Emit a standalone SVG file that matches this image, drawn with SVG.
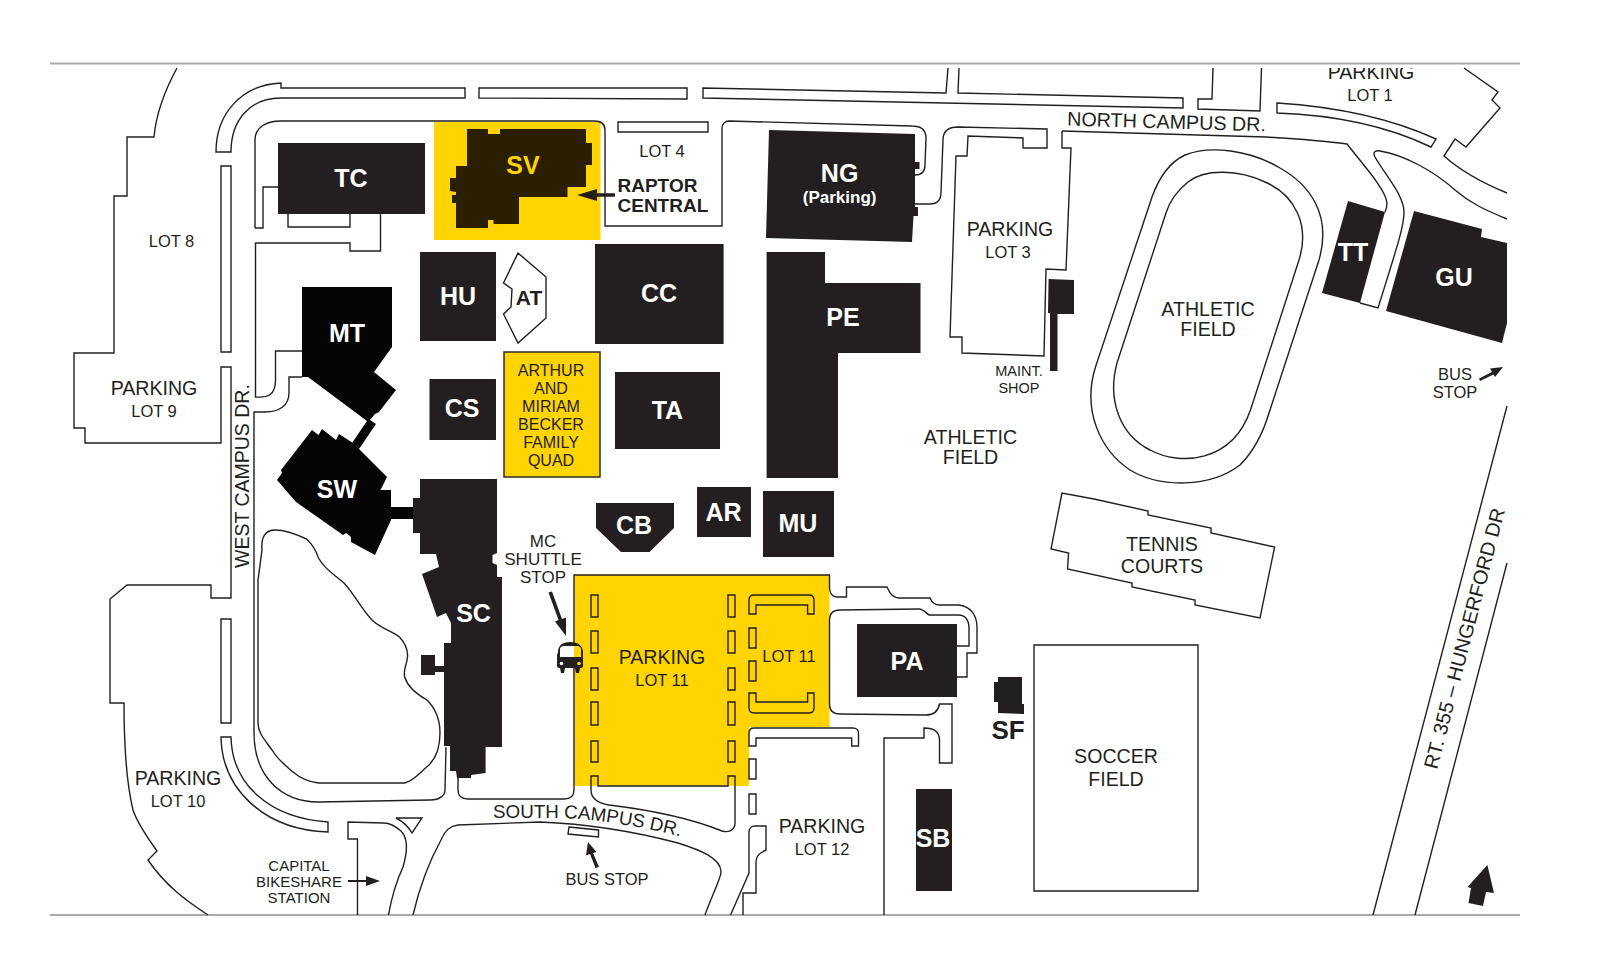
<svg xmlns="http://www.w3.org/2000/svg" width="1619" height="966" viewBox="0 0 1619 966">
<style>
text{font-family:"Liberation Sans",Arial,sans-serif;fill:#231f20;text-anchor:middle}
.r{font-size:19.6px}.s{font-size:16.5px}.q{font-size:16px}.c{font-size:15px}.m{font-size:14.5px}
.b{font-size:25px;font-weight:700;fill:#fff}
.l{fill:none;stroke:#231f20;stroke-width:1.4;stroke-linejoin:miter}
.f{fill:#231f20}.k{fill:#050505}.y{fill:#ffd400}
.e{stroke:#aaa;stroke-width:2;fill:none}
</style>
<defs><clipPath id="top"><rect x="1200" y="68" width="340" height="60"/></clipPath></defs>
<rect width="1619" height="966" fill="#fff"/>
<g id="yellow-areas">
<rect class="y" x="434" y="122" width="166.5" height="118"/>
<path class="y" d="M574.4,575H829.5V727H749V786H574.4Z"/>
</g>
<g id="connectors">
<path class="e" d="M50,63.5H1520M50,915H1520"/>
<path class="l" d="M177,68C165,90 156,115 154,137H127V196H114V353H74V428H85V443H221V367H231V598H211V585H127L110,599V703H124C124,745 127,785 133,810C138,825 148,838 157,851L148,860C165,885 185,900 208,915"/>
<path class="l" d="M221,166H231V352H221ZM221,619H231V723H221Z"/>
<path class="l" d="M216,152C216,115 240,85 281,83V88H465V98H281C250,98 231,120 231,152Z"/>
<path class="l" d="M479,88H687V99L479,98Z"/>
<path class="l" d="M618,122H708V132H618Z"/>
<path class="l" d="M948,68L946,93L703,88V98L1183,108V98L958,93L959,68"/>
<path class="l" d="M1213,68L1212,99H1198V109L1260,111L1261.5,68"/>
<path class="l" d="M1277,103C1340,107 1390,118 1436,139L1431,147C1385,125 1335,115 1277,113Z"/>
<path class="l" d="M1464,68L1498,92L1492,100L1500,108L1466,147L1455,139L1444,156C1462,172 1485,184 1507,193"/>
<path class="l" d="M1507,219C1485,210 1470,203 1455,190C1435,172 1405,155 1380,151C1374,150 1373,153 1375,157C1385,175 1404,195 1404,212C1404,225 1400,238 1378,308L1360,303"/>
<path class="l" d="M1062,131V148H1071L1066,270L1046,269L1044,356L962,353V337H950L956,156H967L968,136L1023,138V148L1047,148V129L958,127C948,127 943,132 943,140L941,192C941,200 938,204 930,204H914"/>
<path class="l" d="M1062,131L1266,137C1300,139 1325,141 1347,144C1365,167 1386,190 1387,203C1387,207 1386,210 1385,212"/>
<path class="l" d="M255,228V140C255,128 265,121 281,121H594C602,121 605,124 605,130V226H722V128C722,124 725,121 729,121L912,126C922,126 926,130 926,138L925,165C925,172 922,175 915,175"/>
<path class="l" d="M255,228H263V187H278M288,214V227H350V214M380.5,214V251H350V243H255.5V397C268,398 275.5,395 275.5,380V351H302M302,377H289V393C289,405 280,412 265,412H254V733C254,775 280,802 318.5,802L430.5,800C440,800 445,795 445,790L446,747"/>
<path class="l" d="M262,550C261,537 265,530 275.5,530C285,530 298,535 306.5,539C313,545 316,550 318.5,558C325,570 335,575 344,583C355,595 362,610 372,620C380,628 390,630 399.5,637C405,643 408,650 407.5,657C407,665 403,668 404.7,677C408,688 418,695 427,700C435,708 440,720 440,733C440,748 436,758 429,765C420,772 415,780 404.7,783H318.5C310,782 300,778 293,772C285,765 278,760 272,750C265,740 258,733 258,723V580Z"/>
<path class="l" d="M221,737H231C232,785 270,818 328,822V832C265,830 222,790 221,737Z"/>
<path class="l" d="M396,818H422L412,833C408,826 402,821 396,818Z"/>
<path class="l" d="M388.5,915C392,895 397,880 403,867C408,850 408,838 401,831C394,825 390,823 384,823L348,822V839H357.5V915"/>
<path class="l" d="M413,915C420,885 430,860 441,840C445,830 450,826 458,825L540,822C590,824 640,833 678,843C700,850 721,858 721,872C721,878 712,895 705,915"/>
<path class="l" d="M458,778V790C458,796 462,799 468,799H564C570,799 574,796 574,790V575H829.5V588C830,594 832,597 837,597H846.5V587H887C890,593 892,598 900,598H930C932,603 935,605 940,605H958.5C970,606 977,615 977,627V653H967V677H957"/>
<path class="l" d="M957,646H969V628C969,620 965,615 958.5,615H929C925,612 923,609 919,609L840,610C833,610 829.5,613 829.5,620V704C829.5,711 833,714 840,714L926,715C933,715 938,712 939.5,704H952V763H939.5V740C939.5,732 935,728 924,728V738H884V915"/>
<path class="l" d="M591,595h7v22h-7zM591,631h7v22h-7zM591,668h7v22h-7zM591,702h7v23h-7zM591,741h7v21h-7zM728,595h7v22h-7zM728,631h7v22h-7zM728,668h7v22h-7zM728,702h7v23h-7zM728,741h7v21h-7zM749,628h7v20h-7zM749,661h7v20h-7zM749,759h7v20h-7zM749,794h7v20h-7z"/>
<path class="l" d="M591,776H598V786H728V776H735V823C735,830 729,833 722,831C690,818 650,810 609,805C597,803 591,798 591,790Z"/>
<path class="l" d="M749,614V600C749,597 751,595 754,595H809C812,595 814,597 814,600V614H807.6V605H756V614Z"/>
<path class="l" d="M749,693H756V702H807.6V693H814V708C814,711 812,713 809,713H754C751,713 749,711 749,708Z"/>
<path class="l" d="M749,746V733C749,730 751,728 754,728H853C856,728 858.5,730 858.5,733V746H851.7V738H756V746Z"/>
<path class="l" d="M743,915V893H756V863C756,855 760,853 766,850V826H755C751,826 749,829 749,832V873L730.5,915"/>
<path class="l" d="M569,827L598.5,830V837L568,834Z"/>
<path class="l" d="M1034,645H1198V891H1034Z"/>
<path class="l" d="M1152,197L1095.5,367C1082,410 1100,450 1130,470C1160,488 1210,488 1240,465C1255,450 1263,433 1269,413L1319,260C1332,215 1310,185 1280,168C1250,150 1210,145 1185,155C1170,162 1160,175 1152,197Z"/>
<path class="l" d="M1166,213L1117,363C1107,400 1120,435 1150,450C1180,466 1232,463 1250.5,410L1299,260C1310,225 1295,195 1265,182C1240,170 1205,168 1188,182C1178,190 1170,200 1166,213Z"/>
<path class="l" d="M1062,493L1051,549L1068.6,553L1067.5,569L1132,583V587L1195,600V605L1260,618L1274.6,547L1211,533V528L1148,515V511L1094,499L1062,493Z"/>
<path class="l" d="M1507,406L1373,915M1507,563L1415,915"/>
<path class="l" d="M518,253L546,277V318L518,343L503.5,314L511,307L512,289L503.5,283Z"/>
</g>
<g id="arrows">
<path class="f" d="M615,193.300H597V189L577,195L597,201V196.700H615Z"/>
<path class="f" d="M348,880H366V876L380,881L366,886V882H348Z"/>
<path class="f" d="M548.500,592.500L552,591.500L562,619L566,617.500L566,636L555,621.500L558.500,620Z"/>
<path class="f" d="M599,867L595.500,868L590,854L586,855.500L588,842L596.500,852L593,853Z"/>
<path class="f" d="M1480,381L1479,378.500L1492,372L1490,368.500L1503,367L1495,377L1493.500,374.500Z"/>
<path class="f" d="M1487.400,865L1494,893L1486,892L1483,906L1468.500,903L1471,888L1467.500,887Z"/>
</g>
<g id="bus-icon">
<path class="f" d="M558,652C558,646 562,642 570,642C578,642 583,646 583,652V666C583,667 582,668 581,668H580L579,673H576L575,668H565L564,673H561L560,668H559C558,668 557,667 557,666V655Z"/>
<path d="M560,649C560,647 562,646 564,646H574V657H560Z" fill="#fff"/><path d="M574,646H577C579,646 581,647 581,649V657H574Z" class="y"/>
<circle cx="561.500" cy="663.500" r="1.800" fill="#fff"/><circle cx="579" cy="663.500" r="1.800" class="y"/>
</g>
<g id="TC"><rect class="f" x="278" y="143" width="147" height="71"/><text class="b" x="351" y="187">TC</text></g>
<g id="SV"><path d="M467,129H488V134H500V129H586V143H592V165H586V187H567.500V197H519V224H493.500V220H488V228H456V203H452V195H456V192L450,191V178H456V166H467Z" fill="#2b1f00"/><text class="b" x="523" y="174" style="fill:#ffd400">SV</text></g>
<g id="HU"><rect class="f" x="420" y="252" width="76" height="89"/><text class="b" x="458" y="305">HU</text></g>
<g id="AT"><text x="529" y="305" style="font-size:21px;font-weight:700">AT</text></g>
<g id="MT"><path class="k" d="M302,287H392V347L374,372L396,390L379,412L375,414L370,420L376,424L359,449L352,443L367,421L308,377H302Z"/><text class="b" x="347" y="342">MT</text></g>
<g id="SW"><path class="k" d="M312,430L318.500,435L322,429L336,440L339,434L353,443L387,477L380.500,490H391V507H413V519H391V520L375,555L351,542V537L346,533L343,535L296,502L277,480L282,473L281,470Z"/><text class="b" x="337" y="498">SW</text></g>
<g id="SC"><path class="f" d="M420,479H497V553L492.500,555V563L497,565V577H502V747H485.600V773L471,775V778H457L456,771H450V746H444V672H435V675H421V655H435V666H444V643H451V623L446,613L437,617L422,574L439,567L436,554H420V533H413V498H420Z"/><text class="b" x="473.500" y="622">SC</text></g>
<g id="CS"><rect class="f" x="429.500" y="379" width="66.500" height="61"/><text class="b" x="462" y="417">CS</text></g>
<g id="QUAD"><rect class="y" x="504" y="352" width="96" height="125" stroke="#231f20" stroke-width="1.400"/>
<text class="q" x="551" y="376">ARTHUR</text><text class="q" x="551" y="394">AND</text><text class="q" x="551" y="412">MIRIAM</text><text class="q" x="551" y="430">BECKER</text><text class="q" x="551" y="448">FAMILY</text><text class="q" x="551" y="466">QUAD</text></g>
<g id="CC"><rect class="f" x="595" y="244" width="128.600" height="100"/><text class="b" x="659" y="302">CC</text></g>
<g id="TA"><rect class="f" x="615" y="372" width="105" height="77"/><text class="b" x="667.400" y="419">TA</text></g>
<g id="PE"><path class="f" d="M766.600,252H825V283H920.500V353H838V478H766.600Z"/><text class="b" x="843" y="326">PE</text></g>
<g id="NG"><path class="f" d="M769,130L915,134V162H919.500V169H915V207H918V216H913.500L912,242L766,238Z"/><text class="b" x="839.600" y="182">NG</text><text class="b" x="839.600" y="203" style="font-size:17px">(Parking)</text></g>
<g id="MAINT"><path class="f" d="M1048.600,279L1074,280V314H1057.500V371H1050V313H1048Z"/></g>
<g id="AR"><rect class="f" x="697" y="487" width="54" height="50"/><text class="b" x="723.500" y="521">AR</text></g>
<g id="MU"><rect class="f" x="763" y="491" width="71" height="66"/><text class="b" x="798" y="532">MU</text></g>
<g id="CB"><path class="f" d="M596,503H674V528L649.500,552H621L596,528Z"/><text class="b" x="634" y="534">CB</text></g>
<g id="PA"><rect class="f" x="857" y="624" width="100" height="73"/><text class="b" x="907" y="670">PA</text></g>
<g id="SF"><path class="f" d="M998,677H1022V704H1024V714L998,713V702H994V682H998Z"/><text x="1008" y="739" style="font-size:26px;font-weight:700">SF</text></g>
<g id="SB"><rect class="f" x="916" y="789" width="36" height="102"/><text class="b" x="933" y="847">SB</text></g>
<g id="TT"><path class="f" d="M1348,201L1385,212L1360,303L1322,293Z"/><text class="b" x="1353" y="261">TT</text></g>
<g id="GU"><path class="f" d="M1414,211L1482,229L1481,237L1507,243V323L1502,343L1386,311Z"/><text class="b" x="1454" y="286">GU</text></g>
<g id="labels">
<text x="617.500" y="192" style="font-size:19px;font-weight:700;text-anchor:start">RAPTOR</text>
<text x="617.500" y="212" style="font-size:19px;font-weight:700;text-anchor:start">CENTRAL</text>
<text class="s" x="662" y="157">LOT 4</text>
<text class="r" x="1010" y="236">PARKING</text><text class="s" x="1008" y="258">LOT 3</text>
<text class="s" x="171.500" y="247">LOT 8</text>
<text class="r" x="154" y="395">PARKING</text><text class="s" x="154" y="417">LOT 9</text>
<text class="m" x="1019" y="376">MAINT.</text><text class="m" x="1019" y="393">SHOP</text>
<text class="r" x="970.500" y="444">ATHLETIC</text><text class="r" x="970.500" y="464">FIELD</text>
<text class="r" x="1208" y="316">ATHLETIC</text><text class="r" x="1208" y="336">FIELD</text>
<text class="r" x="1371" y="79" clip-path="url(#top)">PARKING</text><text class="s" x="1370" y="101">LOT 1</text>
<text class="s" x="1455" y="380">BUS</text><text class="s" x="1455" y="398">STOP</text>
<text class="r" x="1162" y="551">TENNIS</text><text class="r" x="1162" y="573">COURTS</text>
<text class="r" x="1116" y="763">SOCCER</text><text class="r" x="1116" y="786">FIELD</text>
<text class="r" x="662" y="664">PARKING</text><text class="s" x="662" y="686">LOT 11</text>
<text class="s" x="789" y="662">LOT 11</text>
<text class="r" x="822" y="833">PARKING</text><text class="s" x="822" y="855">LOT 12</text>
<text class="r" x="178" y="785">PARKING</text><text class="s" x="178" y="807">LOT 10</text>
<text class="c" x="299" y="871">CAPITAL</text><text class="c" x="299" y="887">BIKESHARE</text><text class="c" x="299" y="903">STATION</text>
<text x="543" y="547" style="font-size:17px">MC</text><text x="543" y="565" style="font-size:17px">SHUTTLE</text><text x="543" y="583" style="font-size:17px">STOP</text>
<text class="s" x="607" y="885">BUS STOP</text>
<text x="1067" y="125.500" transform="rotate(1.700 1067 125.500)" style="font-size:19.700px;text-anchor:start">NORTH CAMPUS DR.</text>
<text x="248.600" y="568" transform="rotate(-90 248.600 568)" style="font-size:19.500px;text-anchor:start">WEST CAMPUS DR.</text>
<path id="sc" d="M493,818L564,818C600,820 640,826 682,837" fill="none"/>
<text style="font-size:18.800px;text-anchor:start"><textPath href="#sc">SOUTH CAMPUS DR.</textPath></text>
<text x="1437" y="770" transform="rotate(-75.300 1437 770)" style="font-size:20px;text-anchor:start">RT. 355 – HUNGERFORD DR</text>
</g>
</svg>
